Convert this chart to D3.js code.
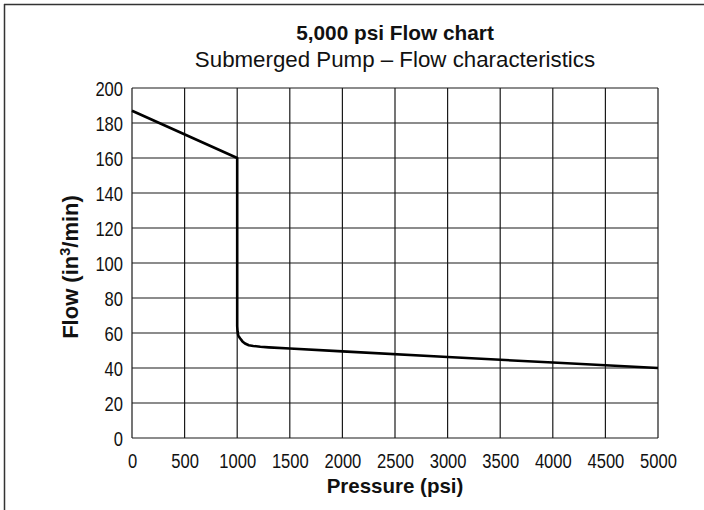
<!DOCTYPE html>
<html>
<head>
<meta charset="utf-8">
<script src="https://cdn.jsdelivr.net/npm/d3@7/dist/d3.min.js"></script>
<style>
  html, body { margin: 0; padding: 0; background: #fff; }
  svg { display: block; }
</style>
</head>
<body>
<svg id="chart" width="704" height="510"></svg>
<script>
const titleText = "5,000 psi Flow chart";
const subtitleText = "Submerged Pump \u2013 Flow characteristics";
const xTicks = [0, 500, 1000, 1500, 2000, 2500, 3000, 3500, 4000, 4500, 5000];
const yTicks = [0, 20, 40, 60, 80, 100, 120, 140, 160, 180, 200];
const pressure = [0, 1000, 1000, 1003, 1010, 1027, 1050, 1074, 1110, 1153, 1220, 1300, 1500, 2000, 3000, 4000, 5000];
const flow     = [187, 160, 64, 61, 58.5, 57, 55.2, 54, 53, 52.6, 52.1, 51.8, 51.1, 49.5, 46.3, 43.1, 40];

const svg = d3.select("#chart");
const W = 704, H = 510;
svg.append("rect").attr("width", W).attr("height", H).attr("fill", "#fff");

// partial frame (top and left)
svg.append("line").attr("x1", 4).attr("x2", W).attr("y1", 4.5).attr("y2", 4.5)
  .attr("stroke", "#333").attr("stroke-width", 1.5);
svg.append("line").attr("x1", 4.5).attr("x2", 4.5).attr("y1", 4).attr("y2", H)
  .attr("stroke", "#333").attr("stroke-width", 1.5);

const x = d3.scaleLinear().domain([0, 5000]).range([132, 658]);
const y = d3.scaleLinear().domain([0, 200]).range([438, 88]);

const tickFont = "'Liberation Sans', Arial, sans-serif";
const mainFont = "'Liberation Sans', Arial, Helvetica, sans-serif";
const squeeze = 0.85;

// grid
const grid = svg.append("g").attr("stroke", "#1a1a1a").attr("stroke-width", 1.2);
grid.selectAll("line.v").data(xTicks).join("line")
  .attr("x1", d => x(d)).attr("x2", d => x(d))
  .attr("y1", y(0)).attr("y2", y(200));
grid.selectAll("line.h").data(yTicks).join("line")
  .attr("x1", x(0)).attr("x2", x(5000))
  .attr("y1", d => y(d)).attr("y2", d => y(d));

// axes labels via d3 axes (no domain / tick lines)
const xAxis = svg.append("g").attr("transform", `translate(0,${y(0)})`)
  .call(d3.axisBottom(x).tickValues(xTicks).tickSize(0).tickPadding(16).tickFormat(d3.format("d")));
const yAxis = svg.append("g").attr("transform", `translate(${x(0)},0)`)
  .call(d3.axisLeft(y).tickValues(yTicks).tickSize(0).tickPadding(9 / squeeze).tickFormat(d3.format("d")));
[xAxis, yAxis].forEach(g => {
  g.select(".domain").remove();
  g.selectAll("text").attr("font-family", tickFont).attr("font-size", 19.5).attr("fill", "#111")
    .attr("transform", `scale(${squeeze},1)`);
});
yAxis.selectAll("text").attr("dy", "0.36em");

// data line
const line = d3.line().x((d, i) => x(pressure[i])).y((d, i) => y(flow[i])).curve(d3.curveLinear);
svg.append("path").datum(flow).attr("d", line)
  .attr("fill", "none").attr("stroke", "#000").attr("stroke-width", 2.6)
  .attr("stroke-linejoin", "round");

// titles
const cx = (x(0) + x(5000)) / 2;
svg.append("text").attr("x", cx).attr("y", 40).attr("text-anchor", "middle")
  .attr("font-family", mainFont).attr("font-weight", "bold").attr("font-size", 20.8)
  .attr("fill", "#111").text(titleText);
svg.append("text").attr("x", cx).attr("y", 67).attr("text-anchor", "middle")
  .attr("font-family", mainFont).attr("font-size", 22.3)
  .attr("fill", "#111").text(subtitleText);

svg.append("text").attr("x", cx).attr("y", 493).attr("text-anchor", "middle")
  .attr("font-family", mainFont).attr("font-weight", "bold").attr("font-size", 20.5)
  .attr("fill", "#111").text("Pressure (psi)");

const yl = svg.append("text")
  .attr("transform", `translate(78,${(y(0) + y(200)) / 2 + 4}) rotate(-90)`)
  .attr("text-anchor", "middle")
  .attr("font-family", mainFont).attr("font-weight", "bold").attr("font-size", 22)
  .attr("fill", "#111");
yl.append("tspan").text("Flow (in");
yl.append("tspan").attr("font-size", 14.5).attr("dy", "-0.55em").text("3");
yl.append("tspan").attr("dy", "0.36em").text("/min)");
</script>
</body>
</html>
